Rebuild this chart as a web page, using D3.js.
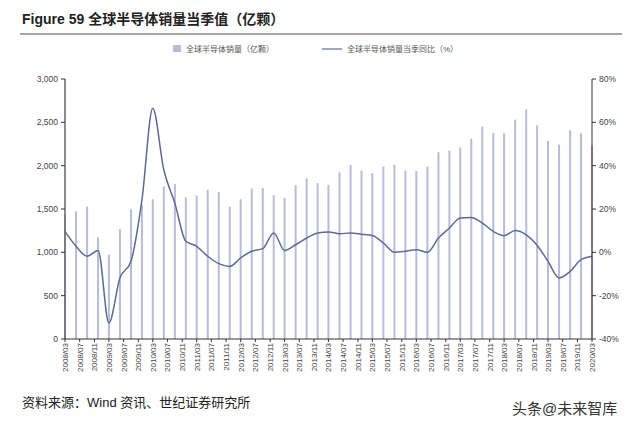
<!DOCTYPE html>
<html><head><meta charset="utf-8">
<script src="https://cdn.jsdelivr.net/npm/d3@7"></script>
<style>body{margin:0;background:#fff;font-family:"Liberation Sans","Noto Sans CJK SC",sans-serif}</style>
</head><body><svg id="c" width="640" height="426"></svg>
<script>
// quarterly sales (100M units) and YoY %
const quarters = d3.range(49).map(i => new Date(2008, 2 + i * 3, 1));
const sales = [1433,1471,1529,1175,972,1271,1498,1548,1613,1759,1790,1636,1655,1721,1694,1525,
  1613,1736,1740,1659,1629,1775,1855,1798,1778,1924,2009,1944,1913,1990,2009,1944,1936,1990,
  2155,2174,2209,2313,2451,2378,2374,2531,2651,2466,2286,2243,2409,2374,2236];
const yoy = [9.7,2.8,-1.8,0.9,-32.6,-11.8,-4.1,24.3,66.5,38,22.6,5.1,2.8,-1.8,-5.2,-6.5,-2.6,0.5,
  1.7,8.9,0.9,3.5,6.6,8.9,9.4,8.6,8.9,8.4,7.8,4.3,0,0.5,1.2,0,6.6,11.2,15.8,16.1,13.5,9.7,7.7,
  10.1,8.1,3.2,-4.1,-11.8,-8.8,-3.4,-1.8];
const leftTicks = [0,500,1000,1500,2000,2500,3000];
const rightTicks = [-40,-20,0,20,40,60,80];
const labelDates = d3.range(37).map(i => new Date(2008, 2 + i * 4, 1));

const svg = d3.select("#c");
const m = {l: 65, r: 592, t: 79, b: 339};
const x = d3.scaleTime().domain([quarters[0], quarters[48]]).range([m.l, m.r]);
const y = d3.scaleLinear().domain([0, 3000]).range([m.b, m.t]);
const y2 = d3.scaleLinear().domain([-40, 80]).range([m.b, m.t]);

// title
svg.append("text").attr("x", 22).attr("y", 24).attr("font-size", 14).attr("font-weight", "bold")
  .attr("fill", "#222").text("Figure 59  全球半导体销量当季值（亿颗）");
svg.append("line").attr("x1", 20).attr("x2", 622).attr("y1", 34).attr("y2", 34)
  .attr("stroke", "#888").attr("stroke-width", 1.5);

// bars
svg.selectAll("rect.bar").data(sales).join("rect").attr("class", "bar")
  .attr("x", (d, i) => x(quarters[i]) - 1).attr("width", 2)
  .attr("y", d => y(d)).attr("height", d => y(0) - y(d)).attr("fill", "#b7bcd8");

// line
svg.append("path").datum(yoy)
  .attr("d", d3.line().x((d, i) => x(quarters[i])).y(d => y2(d)).curve(d3.curveMonotoneX))
  .attr("fill", "none").attr("stroke", "#5b6b97").attr("stroke-width", 1.5);

// axes
const ax = svg.append("g").attr("font-size", 8.5).attr("fill", "#444");
ax.append("line").attr("x1", m.l).attr("x2", m.l).attr("y1", m.t).attr("y2", m.b)
  .attr("stroke", "#666").attr("stroke-width", 1.5);
ax.append("line").attr("x1", m.r).attr("x2", m.r).attr("y1", m.t).attr("y2", m.b).attr("stroke", "#333");
ax.append("line").attr("x1", m.l).attr("x2", m.r).attr("y1", m.b).attr("y2", m.b).attr("stroke", "#333");
leftTicks.forEach(t => {
  ax.append("line").attr("x1", m.l - 4).attr("x2", m.l).attr("y1", y(t)).attr("y2", y(t)).attr("stroke", "#333");
  ax.append("text").attr("x", m.l - 7).attr("y", y(t) + 3).attr("text-anchor", "end").text(d3.format(",")(t));
});
rightTicks.forEach(t => {
  ax.append("line").attr("x1", m.r).attr("x2", m.r + 4).attr("y1", y2(t)).attr("y2", y2(t)).attr("stroke", "#333");
  ax.append("text").attr("x", m.r + 7).attr("y", y2(t) + 3).text(t + "%");
});
labelDates.forEach(dt => {
  const px = x(dt);
  ax.append("line").attr("x1", px).attr("x2", px).attr("y1", m.b).attr("y2", m.b + 3).attr("stroke", "#333");
  ax.append("text").attr("transform", `translate(${px + 3},${m.b + 4}) rotate(-90)`)
    .attr("text-anchor", "end").attr("font-size", 8).text(d3.timeFormat("%Y/%m")(dt));
});

// legend
const lg = svg.append("g").attr("font-size", 8).attr("fill", "#555");
lg.append("rect").attr("x", 173).attr("y", 45).attr("width", 8).attr("height", 7).attr("fill", "#b7bcd8");
lg.append("text").attr("x", 186).attr("y", 52).text("全球半导体销量（亿颗）");
lg.append("line").attr("x1", 322).attr("x2", 342).attr("y1", 49).attr("y2", 49).attr("stroke", "#5b6b97").attr("stroke-width", 1.2);
lg.append("text").attr("x", 347).attr("y", 52).text("全球半导体销量当季同比（%）");

// footer
svg.append("text").attr("x", 22).attr("y", 407).attr("font-size", 13).attr("fill", "#222")
  .text("资料来源：Wind 资讯、世纪证券研究所");
svg.append("text").attr("x", 512).attr("y", 414).attr("font-size", 15).attr("fill", "#333")
  .text("头条@未来智库");
</script></body></html>
